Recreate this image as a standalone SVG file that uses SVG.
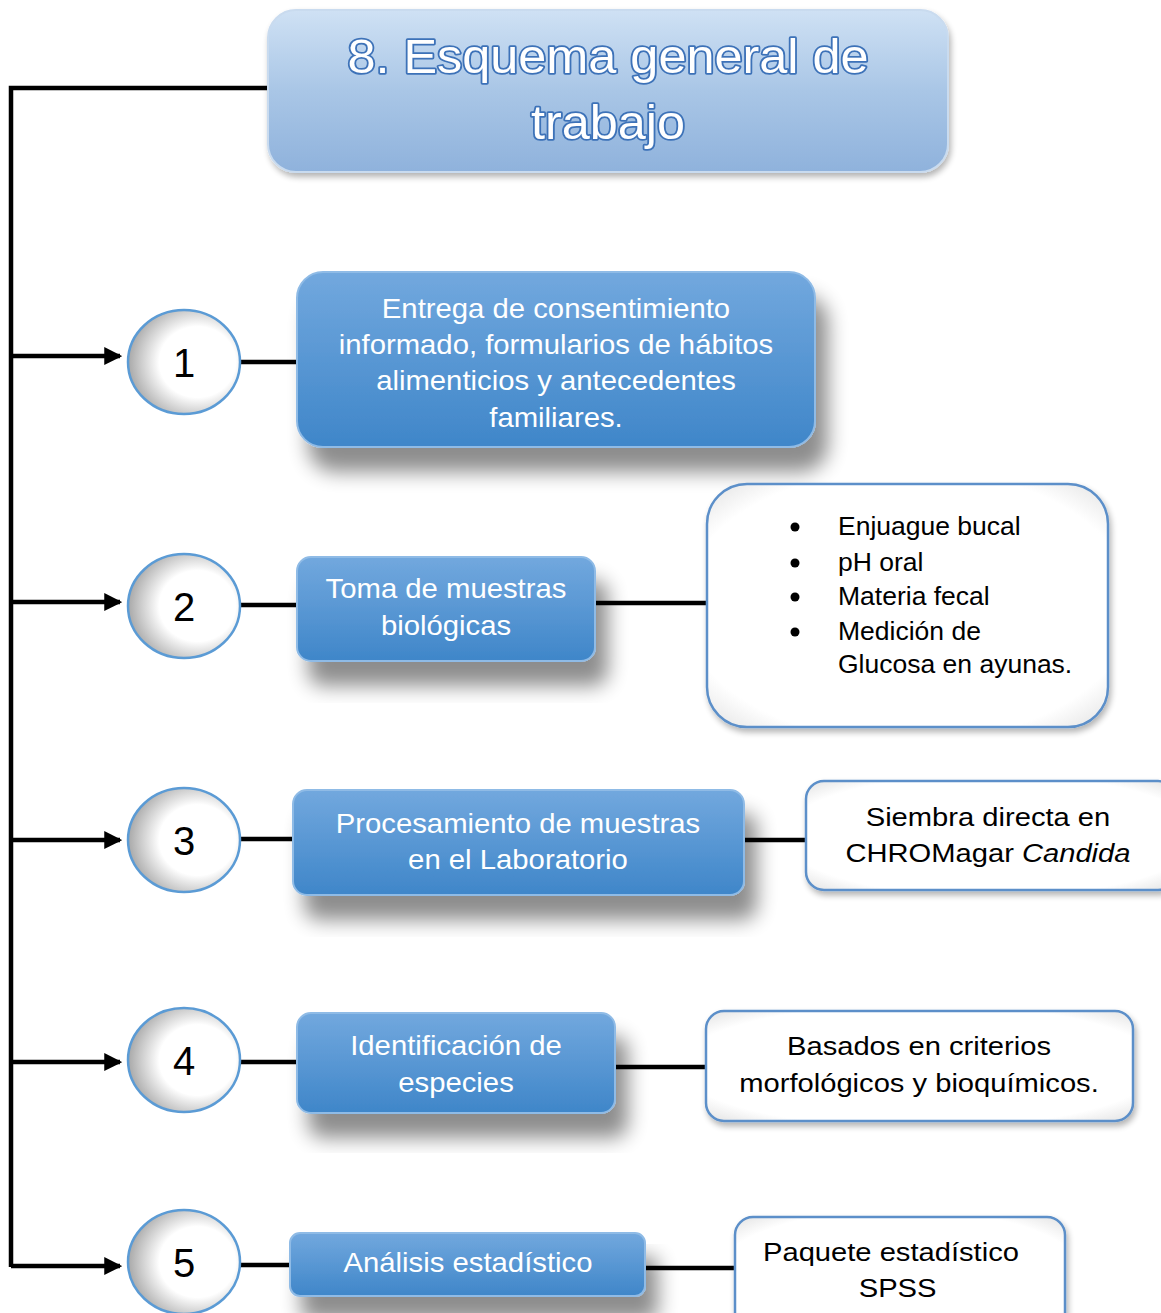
<svg xmlns="http://www.w3.org/2000/svg" width="1161" height="1313" viewBox="0 0 1161 1313">
<defs>
<linearGradient id="gTitle" x1="0" y1="0" x2="0" y2="1">
<stop offset="0" stop-color="#cfe1f4"/><stop offset="0.5" stop-color="#a9c6e6"/><stop offset="1" stop-color="#8fb2dc"/>
</linearGradient>
<linearGradient id="gBlue" x1="0" y1="0" x2="0" y2="1">
<stop offset="0" stop-color="#72a8de"/><stop offset="1" stop-color="#3f86c9"/>
</linearGradient>
<radialGradient id="gCirc" cx="0.62" cy="0.5" r="0.62">
<stop offset="0.55" stop-color="#ffffff"/><stop offset="1" stop-color="#a8a8a8"/>
</radialGradient>
<radialGradient id="gWhite" cx="0.5" cy="0.5" r="0.75">
<stop offset="0.75" stop-color="#ffffff"/><stop offset="1" stop-color="#d9d9d9"/>
</radialGradient>
<filter id="shBlue" x="-20%" y="-20%" width="140%" height="160%">
<feGaussianBlur in="SourceAlpha" stdDeviation="10"/>
<feOffset dx="12" dy="24" result="b"/>
<feComponentTransfer><feFuncA type="linear" slope="0.45"/></feComponentTransfer>
<feMerge><feMergeNode/><feMergeNode in="SourceGraphic"/></feMerge>
</filter>
<filter id="shSmall" x="-20%" y="-20%" width="140%" height="140%">
<feGaussianBlur in="SourceAlpha" stdDeviation="3"/>
<feOffset dx="2" dy="4" result="b"/>
<feComponentTransfer><feFuncA type="linear" slope="0.3"/></feComponentTransfer>
<feMerge><feMergeNode/><feMergeNode in="SourceGraphic"/></feMerge>
</filter>
<marker id="arr" markerWidth="4" markerHeight="4" refX="3.5" refY="2" orient="auto" markerUnits="strokeWidth">
<path d="M0,0 L4,2 L0,4 Z" fill="#000"/>
</marker>
</defs>
<style>
.conn{stroke:#000;stroke-width:4.5;fill:none}
.circ{fill:url(#gCirc);stroke:#5b9bd5;stroke-width:2.5}
.num{font-family:"Liberation Sans",Arial,sans-serif;font-size:40px;fill:#000;text-anchor:middle}
.bbox{fill:url(#gBlue);stroke:#8fbbe6;stroke-width:2}
.btxt{font-family:"Liberation Sans",Arial,sans-serif;font-size:27px;fill:#fff;text-anchor:middle}
.wbox{fill:url(#gWhite);stroke:#5b8fc9;stroke-width:2.5}
.wtxt{font-family:"Liberation Sans",Arial,sans-serif;font-size:26.5px;fill:#000}
.title{font-family:"Liberation Sans",Arial,sans-serif;font-size:48px;fill:#fff;stroke:#3d72b8;stroke-width:3.5;stroke-linejoin:round;paint-order:stroke;text-anchor:middle}
</style>

<g id="connectors">
<polyline class="conn" points="268,88 11,88 11,1267"/>
<line class="conn" x1="11" y1="356" x2="120" y2="356" marker-end="url(#arr)"/>
<line class="conn" x1="11" y1="602" x2="120" y2="602" marker-end="url(#arr)"/>
<line class="conn" x1="11" y1="840" x2="120" y2="840" marker-end="url(#arr)"/>
<line class="conn" x1="11" y1="1062" x2="120" y2="1062" marker-end="url(#arr)"/>
<line class="conn" x1="11" y1="1266" x2="120" y2="1266" marker-end="url(#arr)"/>
<line class="conn" x1="240" y1="362" x2="298" y2="362"/>
<line class="conn" x1="240" y1="605" x2="298" y2="605"/>
<line class="conn" x1="240" y1="839" x2="294" y2="839"/>
<line class="conn" x1="240" y1="1062" x2="298" y2="1062"/>
<line class="conn" x1="240" y1="1265" x2="291" y2="1265"/>
<line class="conn" x1="594" y1="603" x2="708" y2="603"/>
<line class="conn" x1="743" y1="840" x2="806" y2="840"/>
<line class="conn" x1="614" y1="1067" x2="707" y2="1067"/>
<line class="conn" x1="644" y1="1268" x2="736" y2="1268"/>
</g>

<g id="title">
<rect x="268" y="10" width="680" height="162" rx="28" fill="url(#gTitle)" stroke="#c9dbef" stroke-width="2" filter="url(#shSmall)"/>
<g transform="matrix(1.05,0,0,1,-30.4,0)">
<text class="title" x="608" y="73">8. Esquema general de</text>
<text class="title" x="608" y="139">trabajo</text>
</g>
</g>

<g id="c1"><ellipse class="circ" cx="184" cy="362" rx="56" ry="52"/><text class="num" x="184" y="377">1</text></g>
<g id="c2"><ellipse class="circ" cx="184" cy="606" rx="56" ry="52"/><text class="num" x="184" y="621">2</text></g>
<g id="c3"><ellipse class="circ" cx="184" cy="840" rx="56" ry="52"/><text class="num" x="184" y="855">3</text></g>
<g id="c4"><ellipse class="circ" cx="184" cy="1060" rx="56" ry="52"/><text class="num" x="184" y="1075">4</text></g>
<g id="c5"><ellipse class="circ" cx="184" cy="1262" rx="56" ry="52"/><text class="num" x="184" y="1277">5</text></g>

<g id="b1">
<rect class="bbox" x="297" y="272" width="518" height="175" rx="26" filter="url(#shBlue)"/>
<g transform="matrix(1.085,0,0,1,-47.26,0)">
<text class="btxt" x="556" y="318">Entrega de consentimiento</text>
<text class="btxt" x="556" y="354">informado, formularios de hábitos</text>
<text class="btxt" x="556" y="390">alimenticios y antecedentes</text>
<text class="btxt" x="556" y="427">familiares.</text>
</g>
</g>
<g id="b2">
<rect class="bbox" x="297" y="557" width="298" height="104" rx="14" filter="url(#shBlue)"/>
<g transform="matrix(1.085,0,0,1,-37.91,0)">
<text class="btxt" x="446" y="598">Toma de muestras</text>
<text class="btxt" x="446" y="635">biológicas</text>
</g>
</g>
<g id="b3">
<rect class="bbox" x="293" y="790" width="451" height="105" rx="14" filter="url(#shBlue)"/>
<g transform="matrix(1.085,0,0,1,-44.03,0)">
<text class="btxt" x="518" y="833">Procesamiento de muestras</text>
<text class="btxt" x="518" y="869">en el Laboratorio</text>
</g>
</g>
<g id="b4">
<rect class="bbox" x="297" y="1013" width="318" height="100" rx="14" filter="url(#shBlue)"/>
<g transform="matrix(1.085,0,0,1,-38.76,0)">
<text class="btxt" x="456" y="1055">Identificación de</text>
<text class="btxt" x="456" y="1092">especies</text>
</g>
</g>
<g id="b5">
<rect class="bbox" x="290" y="1233" width="355" height="63" rx="10" filter="url(#shBlue)"/>
<g transform="matrix(1.085,0,0,1,-39.78,0)">
<text class="btxt" x="468" y="1272">Análisis estadístico</text>
</g>
</g>

<g id="w2">
<rect class="wbox" x="707" y="484" width="401" height="243" rx="40" filter="url(#shSmall)"/>
<g fill="#000">
<circle cx="795" cy="527" r="4.5"/><circle cx="795" cy="563" r="4.5"/><circle cx="795" cy="597" r="4.5"/><circle cx="795" cy="632" r="4.5"/>
</g>
<text class="wtxt" x="838" y="535">Enjuague bucal</text>
<text class="wtxt" x="838" y="571">pH oral</text>
<text class="wtxt" x="838" y="605">Materia fecal</text>
<text class="wtxt" x="838" y="640">Medición de</text>
<text class="wtxt" x="838" y="673">Glucosa en ayunas.</text>
</g>
<g id="w3">
<rect class="wbox" x="806" y="781" width="370" height="109" rx="18" filter="url(#shSmall)"/>
<g transform="matrix(1.1,0,0,1,-98.8,0)">
<text class="wtxt" x="988" y="826" text-anchor="middle">Siembra directa en</text>
<text class="wtxt" x="988" y="862" text-anchor="middle">CHROMagar <tspan font-style="italic">Candida</tspan></text>
</g>
</g>
<g id="w4">
<rect class="wbox" x="706" y="1011" width="427" height="110" rx="18" filter="url(#shSmall)"/>
<g transform="matrix(1.1,0,0,1,-91.9,0)">
<text class="wtxt" x="919" y="1055" text-anchor="middle">Basados en criterios</text>
<text class="wtxt" x="919" y="1092" text-anchor="middle">morfológicos y bioquímicos.</text>
</g>
</g>
<g id="w5">
<rect class="wbox" x="735" y="1217" width="330" height="120" rx="18" filter="url(#shSmall)"/>
<g transform="matrix(1.1,0,0,1,-89.1,0)">
<text class="wtxt" x="891" y="1261" text-anchor="middle">Paquete estadístico</text>
<text class="wtxt" x="897" y="1297" text-anchor="middle">SPSS</text>
</g>
</g>
</svg>
